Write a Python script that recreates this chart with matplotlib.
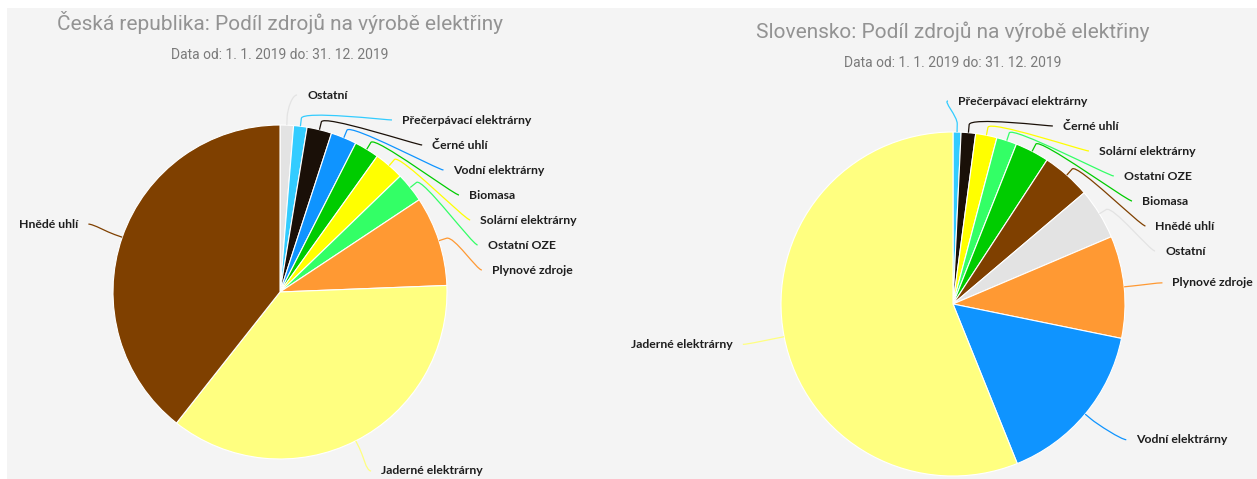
import numpy as np
import matplotlib
matplotlib.use("Agg")
import matplotlib.pyplot as plt
from matplotlib.path import Path
from matplotlib.patches import PathPatch, Rectangle

# ---------------- data ----------------
cz_title = "Česká republika: Podíl zdrojů na výrobě elektřiny"
sk_title = "Slovensko: Podíl zdrojů na výrobě elektřiny"
subtitle = "Data od: 1. 1. 2019 do: 31. 12. 2019"

cz_labels = ["Ostatní", "Přečerpávací elektrárny", "Černé uhlí", "Vodní elektrárny",
             "Biomasa", "Solární elektrárny", "Ostatní OZE", "Plynové zdroje",
             "Jaderné elektrárny", "Hnědé uhlí"]
cz_values = [1.3, 1.3, 2.4, 2.5, 2.4, 2.9, 2.9, 8.7, 36.3, 39.4]

sk_labels = ["Přečerpávací elektrárny", "Černé uhlí", "Solární elektrárny", "Ostatní OZE",
             "Biomasa", "Hnědé uhlí", "Ostatní", "Plynové zdroje",
             "Vodní elektrárny", "Jaderné elektrárny"]
sk_values = [0.75, 1.36, 2.0, 1.9, 3.2, 4.6, 4.8, 9.6, 15.7, 56.1]

source_colors = {
    "Ostatní": "#e3e3e3",
    "Přečerpávací elektrárny": "#33ccff",
    "Černé uhlí": "#1a1008",
    "Vodní elektrárny": "#0f94ff",
    "Biomasa": "#00cc00",
    "Solární elektrárny": "#ffff00",
    "Ostatní OZE": "#33ff66",
    "Plynové zdroje": "#ff9933",
    "Jaderné elektrárny": "#ffff80",
    "Hnědé uhlí": "#7f4000",
}

# ---------------- layout (pixels) ----------------
W, H = 1257, 479
BG = "#f4f4f4"
SPACING = 25

fig = plt.figure(figsize=(W / 100, H / 100), dpi=100)
fig.patch.set_facecolor("white")
ax = fig.add_axes([0, 0, 1, 1])
ax.axis("off")


def Y(py):
    return H - py


def draw_panel(labels, values, title, cx, cy, r, title_y, sub_y, ymin, ymax,
               lab_dist, lab_cy_off):
    cols = [source_colors[l] for l in labels]
    wedges, _ = ax.pie(values, colors=cols, startangle=90, counterclock=False,
                       center=(cx, Y(cy)), radius=r,
                       wedgeprops=dict(edgecolor="white", linewidth=0.8))
    RN = r + 40
    RL = r + lab_dist
    cyl = cy + lab_cy_off
    items = []
    for w, lab, col in zip(wedges, labels, cols):
        tm = np.deg2rad((w.theta1 + w.theta2) / 2)
        dx, dy = np.cos(tm), -np.sin(tm)
        items.append(dict(lab=lab, col=col, dx=dx, dy=dy,
                          ny=cy + RN * dy, side=1 if dx >= 0 else -1))
    for side in (1, -1):
        group = sorted([it for it in items if it["side"] == side], key=lambda d: d["ny"])
        prev = ymin - SPACING
        for it in group:
            y = max(it["ny"], prev + SPACING, ymin)
            clamped = False
            if it["ny"] < ymin and y == ymin:
                clamped = True
            if y > ymax:
                y = ymax
                clamped = True
            it["y"] = y
            it["yx"] = it["ny"] + (lab_cy_off if y > cy else 0) if clamped else y
            prev = y
    for it in items:
        side, y = it["side"], it["y"]
        h = np.sqrt(max(RL ** 2 - (it["yx"] - cyl) ** 2, 0))
        tx = cx + side * (h + 5)
        lx = tx - side * 10
        T = np.array([cx + r * it["dx"], cy + r * it["dy"]])
        B = np.array([cx + (r + 8) * it["dx"], cy + (r + 8) * it["dy"]])
        C1 = np.array([lx - side * 5, y])
        C2 = 2 * B - T
        pts = [(lx, y), C1, C2, B, T]
        verts = [(p[0], Y(p[1])) for p in pts]
        codes = [Path.MOVETO, Path.CURVE4, Path.CURVE4, Path.CURVE4, Path.LINETO]
        ax.add_patch(PathPatch(Path(verts, codes), facecolor="none",
                               edgecolor=it["col"], linewidth=0.9, zorder=3))
        ax.text(tx, Y(y), it["lab"], ha="left" if side > 0 else "right", va="center",
                fontsize=8.8, fontweight="bold", color="#1e1e1e",
                family=["Lato", "DejaVu Sans"], zorder=4)
    ax.text(cx, Y(title_y), title, ha="center", va="center", fontsize=15,
            color="#939393", family=["Roboto", "DejaVu Sans"])
    ax.text(cx, Y(sub_y), subtitle, ha="center", va="center", fontsize=10,
            color="#7a7a7a", family=["Roboto", "DejaVu Sans"])


ax.add_patch(Rectangle((7, 0), W - 7, H - 8, facecolor=BG, edgecolor="none", zorder=0))

draw_panel(cz_labels, cz_values, cz_title, 280, 292, 167, 22, 55, 95, 471, 41, 0)
draw_panel(sk_labels, sk_values, sk_title, 953, 304, 172, 32, 63, 101, 471, 45, 12)

ax.set_xlim(0, W)
ax.set_ylim(0, H)
ax.set_aspect("auto")
fig.savefig("out.png", dpi=100, facecolor="white")
